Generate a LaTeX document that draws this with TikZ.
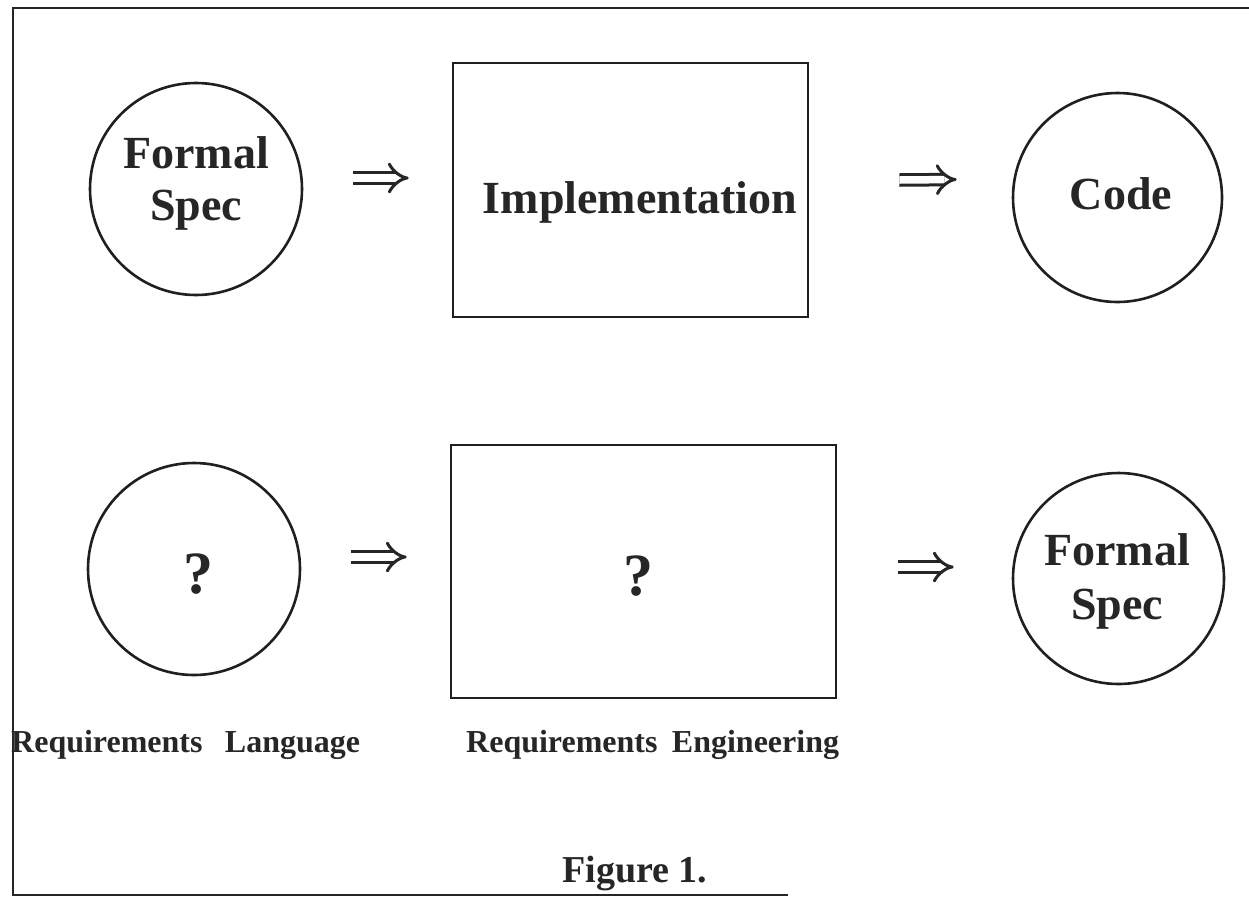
\documentclass[tikz,border=0pt]{standalone}
\usepackage{fontspec}
\setmainfont{Liberation Serif}
\usetikzlibrary{arrows.meta}
\begin{document}
\begin{tikzpicture}[x=1pt,y=-1pt,
  ink/.style={draw=black!88, line width=2.6pt},
  orb/.style={ink, circle, minimum size=#1, inner sep=0pt},
  panel/.style 2 args={ink, rectangle, minimum width=#1, minimum height=#2, inner sep=0pt},
  txt/.style={text=black!85, anchor=base, inner sep=0pt},
  big/.style={txt, font=\fontsize{46}{52}\selectfont\bfseries},
  query/.style={txt, font=\fontsize{60}{66}\selectfont\bfseries},
  caption/.style={txt, anchor=base west, font=\fontsize{32}{38}\selectfont\bfseries},
  figtitle/.style={txt, font=\fontsize{38}{44}\selectfont\bfseries},
  imp/.style={draw=black!85, line width=3pt, double distance=7.5pt, -{Implies}},
  frame/.style={draw=black!85, line width=2.6pt}
]
\useasboundingbox (0,0) rectangle (1249,903);
\fill[white] (0,0) rectangle (1249,903);

% outer frame (open on the right)
\draw[frame] (1249,8) -- (13,8) -- (13,895) -- (788,895);

% top row: Formal Spec => Implementation => Code
\node[orb=212] (fs1) at (196,189) {};
\node[panel={355}{254}] (impl) at (630.5,190) {};
\node[orb=209] (code) at (1117.5,197.5) {};

\node[big] (fs1a) at (196,168) {Formal};
\node[big] (fs1b) at (196,220) {Spec};
\node[big] (implt) at (640,213) {Implementation};
\node[big] (codet) at (1121,209) {Code};

% bottom row: ? => ? => Formal Spec
\node[orb=212] (lang) at (194,569) {};
\node[panel={385}{253}] (reng) at (643.5,571.5) {};
\node[orb=211] (fs2) at (1118.5,578.5) {};

\node[query] (langq) at (198,593) {?};
\node[query] (rengq) at (638,595) {?};
\node[big] (fs2a) at (1117,565) {Formal};
\node[big] (fs2b) at (1117,619) {Spec};

% implication connectors
\draw[imp] ([shift={(50,-11)}]fs1.east) -- ([shift={(-43,-12)}]impl.west);
\draw[imp] ([shift={(90,-10)}]impl.east) -- ([shift={(-55,-18)}]code.west);
\draw[imp] ([shift={(50,-12)}]lang.east) -- ([shift={(-43,-14.5)}]reng.west);
\draw[imp] ([shift={(61,-4.5)}]reng.east) -- ([shift={(-58,-11.5)}]fs2.west);

% captions under the bottom row
\node[caption] (langcap) at (11,752) {Requirements\hspace{0.7em}Language};
\node[caption] (rengcap) at (466,752) {Requirements\hspace{0.45em}Engineering};

\node[figtitle] (fig) at (635,882) {Figure 1.};
\end{tikzpicture}
\end{document}
